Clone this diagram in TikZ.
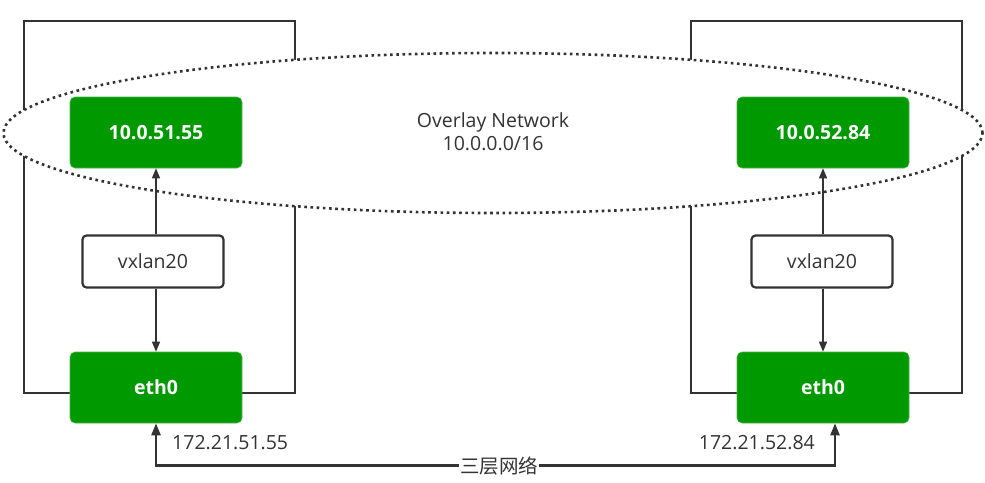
\documentclass[tikz,border=0pt]{standalone}
\usepackage{fontspec}
\setmainfont{Open Sans}
\newfontfamily\cjkfont{Noto Sans CJK SC}
\usetikzlibrary{shapes.geometric,arrows.meta}
\definecolor{gr}{RGB}{0,153,0}
\definecolor{ln}{RGB}{51,51,51}
\tikzset{
  host/.style={draw=ln,line width=2.6pt},
  ipbox/.style={rounded corners=5pt,fill=gr,draw=gr!70!white,line width=0.6pt,minimum width=172pt,minimum height=71pt,text=white,font=\fontsize{19.5}{22}\selectfont\bfseries,inner sep=0pt},
  vbox/.style={rounded corners=4pt,fill=white,draw=ln,line width=2.2pt,minimum width=141pt,minimum height=52pt,text=ln,font=\fontsize{19.5}{22}\selectfont,inner sep=0pt},
  thin/.style={draw=ln,line width=1.3pt,-{Triangle[length=10pt,width=8pt]}},
  thick/.style={draw=ln,line width=2.4pt,{Triangle[length=12pt,width=9pt]}-{Triangle[length=12pt,width=9pt]}},
  lbl/.style={text=ln,font=\fontsize{19.5}{22}\selectfont,inner sep=0pt}
}
\begin{document}
\begin{tikzpicture}[x=1pt,y=-1pt]
\useasboundingbox (0,0) rectangle (985,482);
% hosts
\draw[host] (24,393) -- (24,21) -- (295,21) -- (295,393) -- cycle;
\draw[host] (691,393) -- (691,21) -- (962,21) -- (962,393) -- cycle;
% overlay ellipse
\node[ellipse,draw=ln,fill=white,line width=2.6pt,dash pattern=on 2.6pt off 3.6pt,minimum width=979pt,minimum height=160pt,inner sep=0pt] (ov) at (493,133) {};
\node[lbl,align=center] (ovt) at (493,132) {Overlay Network\\[1pt]10.0.0.0/16};
% boxes
\node[ipbox] (ipL) at (156,132.5) {10.0.51.55};
\node[ipbox] (ipR) at (823,132.5) {10.0.52.84};
\node[vbox] (vxL) at (153,261.5) {vxlan20};
\node[vbox] (vxR) at (822,261.5) {vxlan20};
\node[ipbox] (ethL) at (156,387.5) {eth0};
\node[ipbox] (ethR) at (823,387.5) {eth0};
% inner arrows
\draw[thin] (vxL.north -| ipL.south) -- (ipL.south);
\draw[thin] (vxL.south -| ethL.north) -- (ethL.north);
\draw[thin] (vxR.north -| ipR.south) -- (ipR.south);
\draw[thin] (vxR.south -| ethR.north) -- (ethR.north);
% underlay
\coordinate (rb) at ([xshift=12pt]ethR.south);
\draw[thick] (ethL.south) -- ++(0,42) -| (rb);
\node[text=ln,font=\cjkfont\fontsize{19.5}{22}\selectfont,fill=white,inner xsep=1pt,inner ysep=0pt] (l3) at (499,466) {三层网络};
\node[lbl,anchor=west] (ipl) at (172,443) {172.21.51.55};
\node[lbl,anchor=east] (ipr) at (815,443) {172.21.52.84};
\end{tikzpicture}
\end{document}
